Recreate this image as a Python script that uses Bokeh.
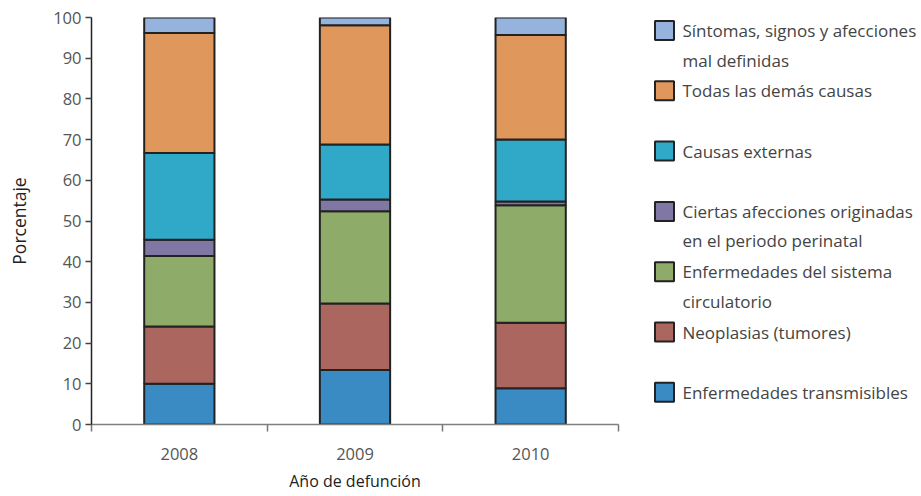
from bokeh.plotting import figure
from bokeh.models import Range1d, FixedTicker, ColumnDataSource
from bokeh.layouts import row
from bokeh.embed import file_html
from bokeh.resources import INLINE
from bokeh.core.properties import value
import numpy as np

years = ["2008", "2009", "2010"]
transmisibles = [10.0, 13.4, 8.9]
neoplasias = [14.1, 16.3, 16.1]
circulatorio = [17.3, 22.7, 28.9]
perinatal = [4.0, 2.9, 0.9]
externas = [21.3, 13.5, 15.2]
demas = [29.5, 29.3, 25.7]
sintomas = [3.8, 1.9, 4.3]

keys = ["transmisibles", "neoplasias", "circulatorio", "perinatal", "externas", "demas", "sintomas"]
labels = [
    ["Enfermedades transmisibles"],
    ["Neoplasias (tumores)"],
    ["Enfermedades del sistema", "circulatorio"],
    ["Ciertas afecciones originadas", "en el periodo perinatal"],
    ["Causas externas"],
    ["Todas las demás causas"],
    ["Síntomas, signos y afecciones", "mal definidas"],
]
colors = ["#3a8ac4", "#ab665f", "#8fab69", "#8077a5", "#30a8c8", "#e0975c", "#95b3dc"]

FONT = "Open Sans"

src = ColumnDataSource(dict(
    x=np.arange(len(years)) + 0.5,
    transmisibles=transmisibles, neoplasias=neoplasias, circulatorio=circulatorio,
    perinatal=perinatal, externas=externas, demas=demas, sintomas=sintomas,
))

p = figure(width=620, height=496, x_range=Range1d(0, len(years)), y_range=Range1d(0, 100),
           output_backend="svg", toolbar_location=None,
           min_border_left=91, min_border_right=2, min_border_top=17, min_border_bottom=72)
p.outline_line_color = None
p.xgrid.visible = False
p.ygrid.visible = False

p.vbar_stack(keys, x="x", width=0.4, color=colors, source=src,
             line_color="#222222", line_width=2)

# y axis
p.yaxis.ticker = FixedTicker(ticks=list(range(0, 101, 10)))
p.yaxis.major_tick_out = 6
p.yaxis.major_tick_in = 0
p.yaxis.minor_tick_out = 0
p.yaxis.minor_tick_in = 0
p.yaxis.axis_line_color = "#222222"
p.yaxis.axis_line_width = 1.5
p.yaxis.major_tick_line_color = "#444444"
p.yaxis.major_tick_line_width = 1.5
p.yaxis.major_label_text_font = FONT
p.yaxis.major_label_text_font_size = "16.5px"
p.yaxis.major_label_text_color = "#555555"
p.yaxis.major_label_standoff = 4
p.yaxis.axis_label = "Porcentaje"
p.yaxis.axis_label_text_font = FONT
p.yaxis.axis_label_text_font_style = "normal"
p.yaxis.axis_label_text_font_size = "17.5px"
p.yaxis.axis_label_text_color = "#222222"
p.yaxis.axis_label_standoff = 19

# x axis
centers = [i + 0.5 for i in range(len(years))]
p.xaxis.ticker = FixedTicker(ticks=centers, minor_ticks=list(range(len(years) + 1)))
p.xaxis.major_label_overrides = {c: y for c, y in zip(centers, years)}
p.xaxis.major_tick_out = 0
p.xaxis.major_tick_in = 0
p.xaxis.minor_tick_out = 7
p.xaxis.minor_tick_in = 0
p.xaxis.minor_tick_line_color = "#777777"
p.xaxis.minor_tick_line_width = 1.5
p.xaxis.axis_line_color = "#808080"
p.xaxis.axis_line_width = 1.5
p.xaxis.major_label_text_font = FONT
p.xaxis.major_label_text_font_size = "16.5px"
p.xaxis.major_label_text_color = "#555555"
p.xaxis.major_label_standoff = 16
p.xaxis.axis_label = "Año de defunción"
p.xaxis.axis_label_text_font = FONT
p.xaxis.axis_label_text_font_style = "normal"
p.xaxis.axis_label_text_font_size = "16px"
p.xaxis.axis_label_text_color = "#222222"
p.xaxis.axis_label_standoff = 7

# legend panel (row aligns its frame with the chart frame: pixel rows 17..424)
LW = 300
lf = figure(width=LW, height=496, x_range=Range1d(0, LW), y_range=Range1d(424, 17),
            output_backend="svg", toolbar_location=None,
            x_axis_type=None, y_axis_type=None,
            min_border=0, min_border_left=0, min_border_right=0, min_border_top=17, min_border_bottom=72)
lf.outline_line_color = None
lf.xgrid.visible = False
lf.ygrid.visible = False

order = list(range(len(keys)))[::-1]
sq_y = [30 + 60.3 * k for k in range(len(order))]
lf.rect(x=[44] * len(order), y=sq_y, width=19, height=19,
        fill_color=[colors[i] for i in order], line_color="#222222", line_width=2)
tx, ty, tt = [], [], []
for k, i in enumerate(order):
    for j, line in enumerate(labels[i]):
        tx.append(62)
        ty.append(sq_y[k] + 29.5 * j)
        tt.append(line)
lf.text(x=tx, y=ty, text=tt, text_baseline="middle", text_align="left",
        text_font=value(FONT), text_font_size="17px", text_color="#444444")

layout = row(p, lf)
open("out.html", "w").write(file_html(layout, INLINE))
